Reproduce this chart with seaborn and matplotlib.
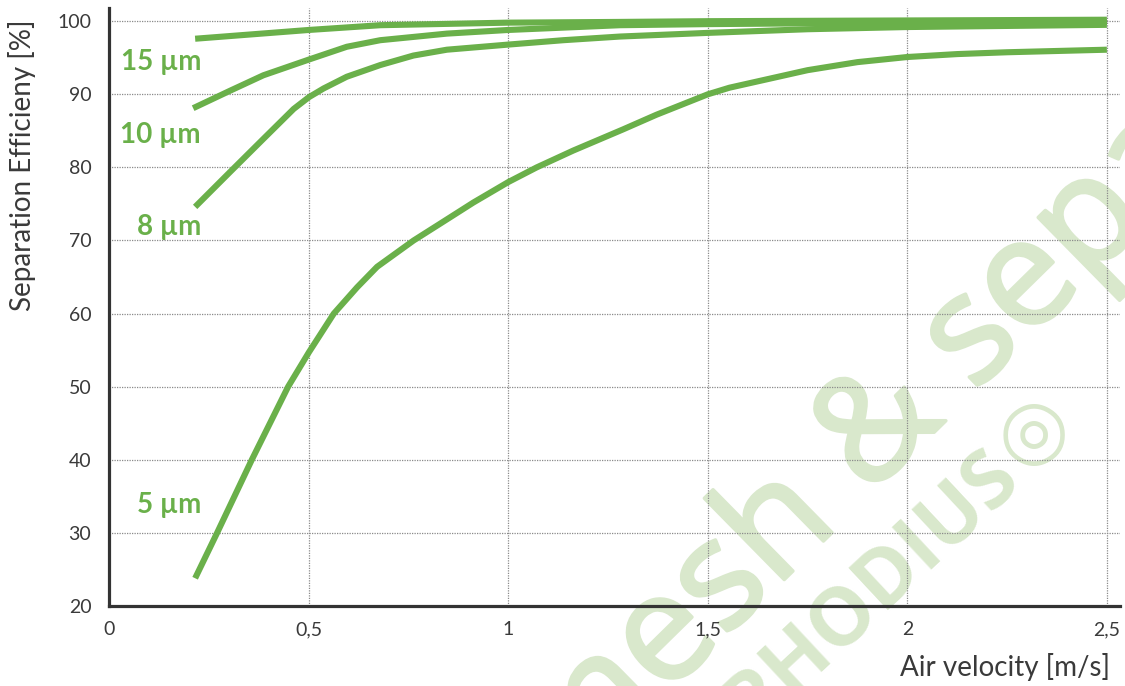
import pandas as pd
import seaborn as sns
import matplotlib.pyplot as plt
import matplotlib.patheffects as pe

###############################################################################
# Data (air velocity [m/s] vs separation efficiency [%])
###############################################################################
v_5um = [0.215, 0.27, 0.357, 0.448, 0.5, 0.5625, 0.621, 0.671, 0.7625, 0.829,
         0.9125, 1.0, 1.071, 1.1625, 1.2875, 1.371, 1.5, 1.554, 1.75, 1.875,
         2.0, 2.125, 2.25, 2.5]
eff_5um = [23.8, 30.0, 40.0, 50.0, 54.7, 60.0, 63.6, 66.4, 70.0, 72.3,
           75.2, 78.0, 80.0, 82.3, 85.2, 87.2, 90.0, 90.9, 93.3, 94.4,
           95.1, 95.5, 95.75, 96.1]

v_8um = [0.215, 0.303, 0.386, 0.462, 0.5, 0.537, 0.595, 0.679, 0.762, 0.846,
         1.0, 1.138, 1.28, 1.5, 1.75, 2.0, 2.5]
eff_8um = [74.6, 79.4, 83.9, 88.0, 89.6, 90.8, 92.4, 94.0, 95.3, 96.1,
           96.8, 97.4, 97.9, 98.4, 98.9, 99.2, 99.5]

v_10um = [0.21, 0.303, 0.386, 0.5, 0.595, 0.679, 0.846, 1.0, 1.28, 1.5,
          2.0, 2.5]
eff_10um = [88.1, 90.5, 92.6, 94.75, 96.5, 97.4, 98.3, 98.8, 99.45, 99.6,
            99.8, 99.9]

v_15um = [0.215, 0.5, 0.679, 1.0, 1.28, 1.5, 2.0, 2.5]
eff_15um = [97.6, 98.8, 99.45, 99.8, 99.9, 100.0, 100.1, 100.2]

sizes = ["5 µm", "8 µm", "10 µm", "15 µm"]

x_ticks = [0, 0.5, 1, 1.5, 2, 2.5]
x_tick_labels = ["0", "0,5", "1", "1,5", "2", "2,5"]
y_ticks = [20, 30, 40, 50, 60, 70, 80, 90, 100]

###############################################################################
# Long table for seaborn
###############################################################################
frames = []
for name, v, e in zip(sizes, [v_5um, v_8um, v_10um, v_15um],
                      [eff_5um, eff_8um, eff_10um, eff_15um]):
    frames.append(pd.DataFrame({"velocity": v, "efficiency": e, "size": name}))
df = pd.concat(frames, ignore_index=True)

###############################################################################
# Plot
###############################################################################
sns.set_theme(style="white")
plt.rcParams["font.family"] = ["Lato", "DejaVu Sans"]

green = "#6ab04a"
text_col = "#3a3a3a"

fig = plt.figure(figsize=(11.25, 6.86), dpi=100)
fig.patch.set_facecolor("white")
ax = fig.add_axes([0.0972, 0.1166, 0.8984, 0.8717])
ax.set_facecolor("none")

# faint watermark behind everything
wm_col = "#d9e8cc"
thicken = [pe.withStroke(linewidth=2.5, foreground=wm_col)]
fig.text(565 / 1125, 1 - 795 / 686, "mesh & separation", fontsize=108,
         family="Open Sans", color=wm_col, rotation=44.5,
         rotation_mode="anchor", ha="left", va="baseline", zorder=-1,
         path_effects=thicken)
fig.text(872 / 1125, 1 - 590 / 686, "RHODIUS", fontsize=58,
         family="Open Sans", weight="bold", color=wm_col, rotation=43,
         rotation_mode="anchor", ha="center", va="center", zorder=-1)
fig.text(1034 / 1125, 1 - 434 / 686, "◎", fontsize=58, family="DejaVu Sans",
         weight="bold", color=wm_col, ha="center", va="center", zorder=-1)

sns.lineplot(
    data=df, x="velocity", y="efficiency", hue="size",
    palette={s: green for s in sizes}, estimator=None, sort=False,
    legend=False, linewidth=4.4, solid_capstyle="butt", ax=ax
)

ax.set_xlim(0, 2.533)
ax.set_ylim(20, 101.8)
ax.set_xticks(x_ticks)
ax.set_xticklabels(x_tick_labels)
ax.set_yticks(y_ticks)

ax.grid(True, color="#8a8a8a", linestyle=(0, (1, 1)), linewidth=0.9)
ax.set_axisbelow(True)

for side in ["top", "right"]:
    ax.spines[side].set_visible(False)
for side in ["left", "bottom"]:
    ax.spines[side].set_linewidth(2.3)
    ax.spines[side].set_color("#333333")

ax.tick_params(axis="both", length=0, labelsize=14, labelcolor=text_col)
ax.tick_params(axis="y", pad=13)
ax.tick_params(axis="x", pad=11)

ax.set_xlabel("Air velocity [m/s]", fontsize=20, color=text_col)
ax.xaxis.set_label_coords(0.99, -0.078)
ax.xaxis.label.set_ha("right")
ax.set_ylabel("Separation Efficieny [%]", fontsize=20, color=text_col)
ax.yaxis.set_label_coords(-0.073, 0.737)

# curve labels
label_pos = {"15 µm": 93.3, "10 µm": 83.3, "8 µm": 70.7, "5 µm": 32.7}
for name in sizes:
    ax.text(0.2296, label_pos[name], name, color=green, fontsize=20,
            weight="bold", ha="right", va="baseline")

fig.savefig("out.png", dpi=100)
